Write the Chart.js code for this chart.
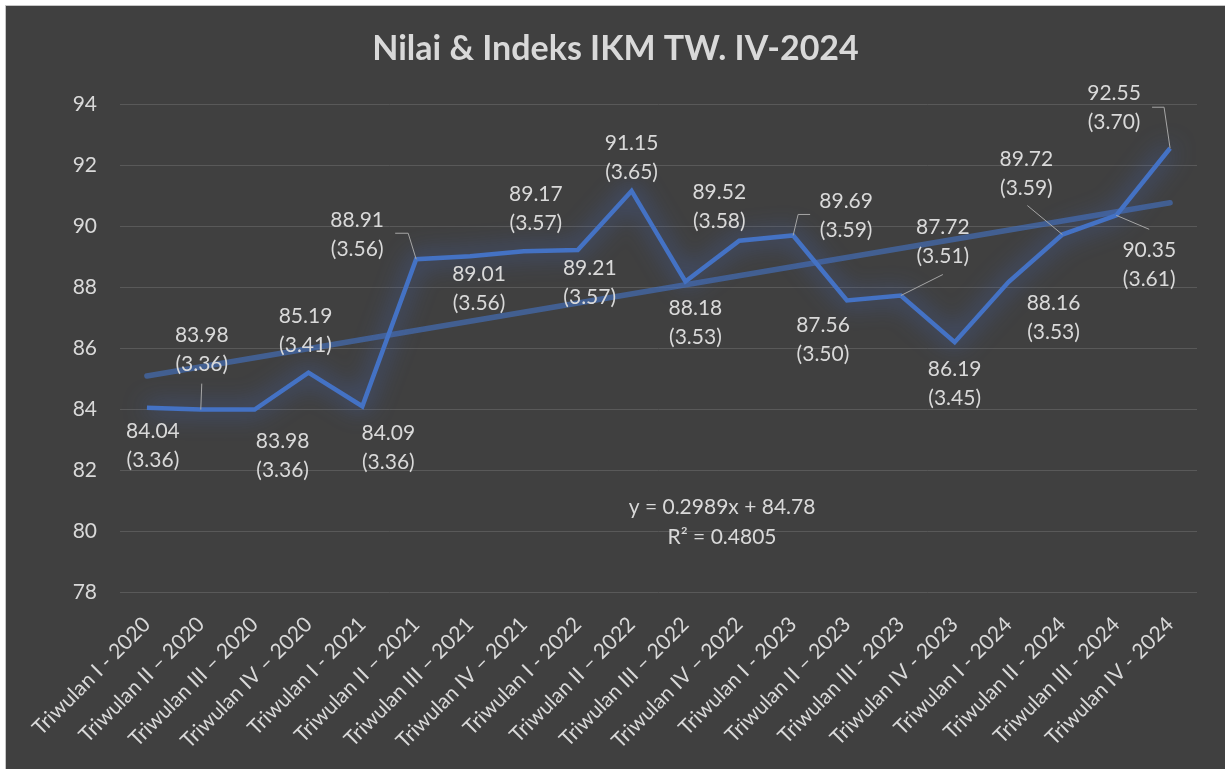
<!DOCTYPE html>
<html>
<head>
<meta charset="utf-8">
<script src="https://cdn.jsdelivr.net/npm/chart.js@4.4.1/dist/chart.umd.min.js"></script>
<style>
  html, body { margin: 0; padding: 0; background: #fff; }
  #wrap {
    position: absolute; left: 5px; top: 5px;
    width: 1219px; height: 763px;
    border-left: 1px solid #c6c6c6; border-top: 1px solid #c6c6c6;
    background: #404040;
  }
</style>
</head>
<body>
<div id="wrap"><canvas id="grafikIKM"></canvas></div>
<script>
// data
const kategori = [
  'Triwulan I - 2020', 'Triwulan II \u2013 2020', 'Triwulan III \u2013 2020', 'Triwulan IV \u2013 2020',
  'Triwulan I - 2021', 'Triwulan II \u2013 2021', 'Triwulan III \u2013 2021', 'Triwulan IV \u2013 2021',
  'Triwulan I - 2022', 'Triwulan II \u2013 2022', 'Triwulan III \u2013 2022', 'Triwulan IV \u2013 2022',
  'Triwulan I - 2023', 'Triwulan II \u2013 2023', 'Triwulan III - 2023', 'Triwulan IV - 2023',
  'Triwulan I - 2024', 'Triwulan II - 2024', 'Triwulan III - 2024', 'Triwulan IV - 2024'
];
const nilai = [84.04, 83.98, 83.98, 85.19, 84.09, 88.91, 89.01, 89.17, 89.21, 91.15,
               88.18, 89.52, 89.69, 87.56, 87.72, 86.19, 88.16, 89.72, 90.35, 92.55];
const indeks = [3.36, 3.36, 3.36, 3.41, 3.36, 3.56, 3.56, 3.57, 3.57, 3.65,
                3.53, 3.58, 3.59, 3.50, 3.51, 3.45, 3.53, 3.59, 3.61, 3.70];
// linear trendline endpoints (y = 0.2989x + 84.78 at x = 1 and x = 20)
const trendAwal = 85.08;
const trendAkhir = 90.76;
const persamaan = ['y = 0.2989x + 84.78', 'R\u00b2 = 0.4805'];
const yTicks = { min: 78, max: 94, step: 2 };

// label placement relative to each point (block centre), plus leader lines
const labelGeser = [
  [6, 38], [1, -60], [28, 46], [-3, -42], [26, 41], [-59, -25], [9, 33], [12, -43], [12, 33], [0, -33],
  [10, 41], [-20, -34], [53, -20], [-24, 39], [42, -54], [0, 42], [45, 36], [-36, -61], [33, 49], [-56, -40]
];
const leader = {
  1: [[1, -26], [0, 0]],
  5: [[-21, -26], [-8, -26], [0, 0]],
  12: [[17, -21], [5, -21], [0, 0]],
  14: [[42, -21], [0, 0]],
  17: [[-35, -29], [0, 0]],
  18: [[0, 0], [33, 14]],
  19: [[-18, -41], [-6, -41], [0, 0]]
};

const warnaTeks = '#d9d9d9';
const fontUtama = 'Lato, "Open Sans", sans-serif';

const glowPlugin = {
  id: 'glow',
  beforeDatasetDraw(chart, args) {
    if (args.index !== 0) return;
    const ctx = chart.ctx;
    ctx.save();
    ctx.shadowColor = 'rgba(70,110,210,0.95)';
    ctx.shadowBlur = 24;
  },
  afterDatasetDraw(chart, args) {
    if (args.index !== 0) return;
    chart.ctx.restore();
  }
};

const labelPlugin = {
  id: 'labelIKM',
  afterDatasetsDraw(chart) {
    const ctx = chart.ctx;
    const meta = chart.getDatasetMeta(0);
    ctx.save();
    // leader lines
    ctx.strokeStyle = '#a6a6a6';
    ctx.lineWidth = 1;
    Object.keys(leader).forEach(k => {
      const p = meta.data[k];
      const pts = leader[k];
      ctx.beginPath();
      pts.forEach((q, j) => {
        if (j === 0) ctx.moveTo(p.x + q[0], p.y + q[1]);
        else ctx.lineTo(p.x + q[0], p.y + q[1]);
      });
      ctx.stroke();
    });
    ctx.fillStyle = warnaTeks;
    ctx.font = '21px ' + fontUtama;
    ctx.textAlign = 'center';
    ctx.textBaseline = 'middle';
    meta.data.forEach((p, i) => {
      const cx = p.x + labelGeser[i][0];
      const cy = p.y + labelGeser[i][1];
      ctx.fillText(nilai[i].toFixed(2), cx, cy - 14.5);
      ctx.fillText('(' + indeks[i].toFixed(2) + ')', cx, cy + 14.5);
    });
    // trendline equation
    const a = chart.chartArea;
    const ex = a.left + (a.right - a.left) * 0.559;
    const ey = a.top + (a.bottom - a.top) * 0.826;
    ctx.fillText(persamaan[0], ex, ey);
    ctx.fillText(persamaan[1], ex, ey + 30);
    ctx.restore();
  }
};

const ctx = document.getElementById('grafikIKM');

new Chart(ctx, {
  type: 'line',
  data: {
    labels: kategori,
    datasets: [{
      label: 'Nilai IKM',
      data: nilai,
      borderColor: '#4472c4',
      borderWidth: 4.5,
      pointRadius: 0,
      tension: 0
    }, {
      label: 'Linear',
      data: [{ x: kategori[0], y: trendAwal }, { x: kategori[kategori.length - 1], y: trendAkhir }],
      borderColor: 'rgba(68,114,196,0.62)',
      borderWidth: 5.5,
      borderCapStyle: 'round',
      pointRadius: 0
    }]
  },
  options: {
    responsive: true,
    maintainAspectRatio: false,
    animation: false,
    layout: { padding: 0 },
    plugins: {
      legend: { display: false },
      tooltip: { enabled: false },
      title: {
        display: true,
        text: 'Nilai & Indeks IKM TW. IV-2024',
        color: warnaTeks,
        font: { family: fontUtama, size: 34, weight: 'bold', lineHeight: 1.2 },
        padding: { top: 23, bottom: 34.2 }
      }
    },
    scales: {
      x: {
        offset: true,
        grid: { display: false },
        border: { display: false },
        ticks: {
          color: warnaTeks,
          font: { family: fontUtama, size: 21 },
          autoSkip: false,
          maxRotation: 45,
          minRotation: 45,
          padding: 12
        },
        afterFit(scale) { scale.height = 177; }
      },
      y: {
        min: yTicks.min,
        max: yTicks.max,
        grid: { color: '#595959', lineWidth: 1, drawTicks: false },
        border: { display: false },
        ticks: {
          stepSize: yTicks.step,
          color: warnaTeks,
          font: { family: fontUtama, size: 21 },
          padding: 23
        },
        afterFit(scale) { scale.width = 114; }
      },
      kanan: {
        position: 'right',
        grid: { display: false },
        border: { display: false },
        ticks: { display: false },
        afterFit(scale) { scale.width = 28; }
      }
    }
  },
  plugins: [glowPlugin, labelPlugin]
});
</script>
</body>
</html>
